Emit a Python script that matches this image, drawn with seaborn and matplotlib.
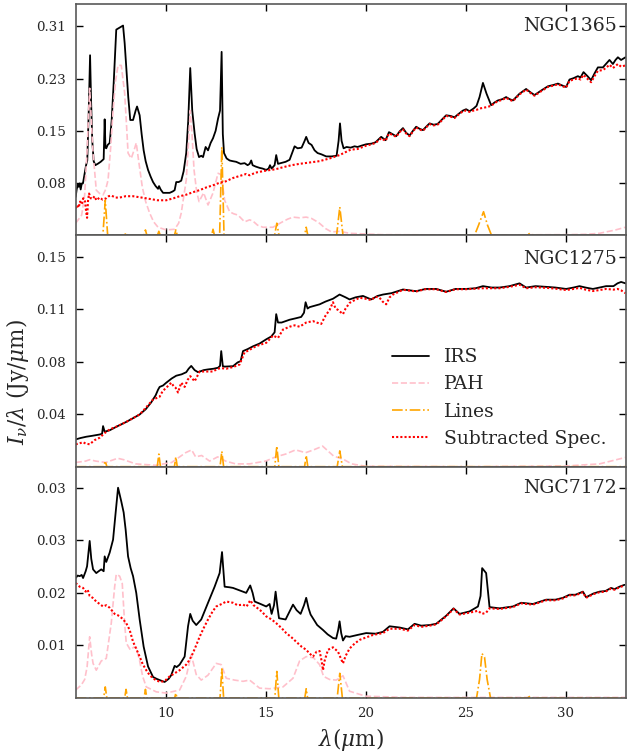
import matplotlib
matplotlib.use("Agg")
import matplotlib.pyplot as plt
import pandas as pd
import seaborn as sns

# ---------------- data (wavelength [um], I_nu/lambda [Jy/um]) ----------------
galaxies = ["NGC1365", "NGC1275", "NGC7172"]
series_labels = ["IRS", "PAH", "Lines", "Subtracted Spec."]

ngc1365_irs = [(5.5,0.057),(5.55,0.068),(5.6,0.075),(5.65,0.072),(5.7,0.077),(5.75,0.068),(5.8,0.076),(5.87,0.078),(5.95,0.092),(6.02,0.104),(6.08,0.111),(6.15,0.18),(6.22,0.267),(6.27,0.20),(6.33,0.140),(6.4,0.110),(6.48,0.104),(6.6,0.106),(6.75,0.109),(6.9,0.113),(6.95,0.172),(6.99,0.130),(7.03,0.129),(7.1,0.134),(7.2,0.137),(7.3,0.170),(7.4,0.225),(7.53,0.305),(7.7,0.308),(7.87,0.311),(7.95,0.285),(8.03,0.249),(8.13,0.205),(8.23,0.171),(8.37,0.171),(8.5,0.185),(8.57,0.191),(8.7,0.178),(8.8,0.150),(8.9,0.126),(9.0,0.110),(9.12,0.097),(9.25,0.087),(9.37,0.079),(9.5,0.073),(9.62,0.069),(9.67,0.073),(9.75,0.068),(9.87,0.063),(10.05,0.063),(10.2,0.063),(10.35,0.065),(10.45,0.067),(10.53,0.079),(10.65,0.079),(10.78,0.081),(10.9,0.095),(11.03,0.122),(11.13,0.170),(11.23,0.248),(11.33,0.185),(11.45,0.151),(11.55,0.128),(11.67,0.116),(11.78,0.118),(11.87,0.116),(12.0,0.131),(12.12,0.126),(12.25,0.137),(12.37,0.144),(12.5,0.155),(12.62,0.173),(12.72,0.185),(12.8,0.272),(12.86,0.150),(12.92,0.122),(13.05,0.114),(13.2,0.111),(13.35,0.110),(13.53,0.109),(13.75,0.106),(13.95,0.107),(14.1,0.104),(14.2,0.106),(14.28,0.111),(14.35,0.104),(14.5,0.102),(14.7,0.100),(14.85,0.099),(15.03,0.097),(15.15,0.099),(15.22,0.104),(15.3,0.099),(15.45,0.104),(15.53,0.119),(15.62,0.106),(15.75,0.107),(16.0,0.109),(16.2,0.112),(16.35,0.124),(16.45,0.132),(16.6,0.129),(16.8,0.130),(16.95,0.140),(17.03,0.146),(17.15,0.137),(17.3,0.134),(17.45,0.126),(17.6,0.122),(17.8,0.120),(18.03,0.117),(18.3,0.117),(18.55,0.118),(18.65,0.140),(18.72,0.166),(18.8,0.140),(18.9,0.129),(19.05,0.131),(19.25,0.130),(19.45,0.132),(19.6,0.131),(19.8,0.133),(20.03,0.135),(20.3,0.136),(20.5,0.138),(20.78,0.146),(21.0,0.141),(21.17,0.153),(21.35,0.150),(21.53,0.147),(21.7,0.154),(21.87,0.159),(22.03,0.152),(22.2,0.148),(22.37,0.155),(22.53,0.161),(22.7,0.158),(22.87,0.156),(23.03,0.161),(23.2,0.166),(23.4,0.164),(23.6,0.165),(23.8,0.171),(24.03,0.178),(24.25,0.177),(24.45,0.175),(24.65,0.180),(24.87,0.185),(25.03,0.187),(25.2,0.184),(25.4,0.188),(25.55,0.192),(25.7,0.205),(25.87,0.226),(26.05,0.210),(26.28,0.193),(26.45,0.197),(26.62,0.200),(26.85,0.202),(27.03,0.205),(27.2,0.202),(27.37,0.200),(27.7,0.210),(28.03,0.217),(28.25,0.212),(28.45,0.208),(28.8,0.215),(29.12,0.221),(29.4,0.223),(29.62,0.225),(29.85,0.222),(30.03,0.220),(30.2,0.231),(30.4,0.233),(30.62,0.236),(30.75,0.234),(30.9,0.242),(31.1,0.236),(31.28,0.230),(31.45,0.240),(31.62,0.249),(31.87,0.249),(32.05,0.255),(32.2,0.260),(32.37,0.254),(32.5,0.260),(32.62,0.264),(32.78,0.260),(33.0,0.264)]
ngc1365_pah = [(5.5,0.018),(5.65,0.024),(5.8,0.030),(5.95,0.060),(6.07,0.126),(6.2,0.218),(6.3,0.160),(6.37,0.122),(6.53,0.067),(6.7,0.062),(6.87,0.060),(7.0,0.068),(7.12,0.082),(7.25,0.130),(7.37,0.185),(7.5,0.230),(7.62,0.252),(7.78,0.252),(7.95,0.211),(8.05,0.160),(8.12,0.122),(8.28,0.114),(8.45,0.129),(8.53,0.137),(8.62,0.117),(8.83,0.072),(9.0,0.050),(9.2,0.033),(9.4,0.020),(9.62,0.012),(10.03,0.008),(10.45,0.009),(10.65,0.018),(10.78,0.033),(11.03,0.082),(11.15,0.140),(11.23,0.185),(11.32,0.150),(11.42,0.097),(11.55,0.065),(11.67,0.050),(11.9,0.063),(12.12,0.045),(12.37,0.063),(12.62,0.092),(12.78,0.090),(12.95,0.052),(13.2,0.035),(13.4,0.032),(13.62,0.030),(13.95,0.020),(14.2,0.023),(14.37,0.021),(14.6,0.015),(14.87,0.012),(15.37,0.012),(15.78,0.019),(16.1,0.024),(16.37,0.027),(16.7,0.026),(17.03,0.027),(17.3,0.025),(17.65,0.019),(18.0,0.010),(18.3,0.005),(18.7,0.006),(19.2,0.003),(20.8,0.001),(25.0,0.0005),(30.0,0.001),(31.0,0.0015),(31.7,0.003),(32.5,0.008),(33.0,0.012)]
ngc1365_lines = [(5.5,0.0),(6.86,0.0),(6.98,0.052),(7.1,0.0),(7.95,0.0),(8.02,0.004),(8.09,0.0),(8.92,0.0),(8.99,0.008),(9.06,0.0),(9.59,0.0),(9.66,0.006),(9.73,0.0),(10.44,0.0),(10.51,0.008),(10.58,0.0),(12.3,0.0),(12.37,0.009),(12.44,0.0),(12.7,0.0),(12.81,0.131),(12.92,0.0),(15.45,0.0),(15.56,0.018),(15.67,0.0),(16.95,0.0),(17.03,0.012),(17.11,0.0),(18.55,0.0),(18.71,0.042),(18.87,0.0),(25.45,0.0),(25.65,0.015),(25.9,0.035),(26.1,0.015),(26.3,0.0),(28.05,0.0),(28.22,0.003),(28.4,0.0),(33.0,0.0)]
ngc1365_sub = [(5.5,0.040),(5.58,0.045),(5.65,0.041),(5.72,0.050),(5.8,0.046),(5.88,0.055),(5.97,0.050),(6.02,0.036),(6.07,0.026),(6.12,0.052),(6.17,0.062),(6.25,0.055),(6.33,0.054),(6.45,0.058),(6.53,0.052),(6.7,0.056),(6.85,0.053),(7.03,0.055),(7.15,0.058),(7.28,0.059),(7.5,0.056),(7.7,0.056),(8.0,0.058),(8.37,0.058),(8.8,0.056),(9.2,0.054),(9.6,0.052),(10.03,0.052),(10.4,0.055),(10.7,0.058),(11.0,0.060),(11.37,0.064),(11.7,0.067),(12.03,0.071),(12.35,0.074),(12.7,0.078),(13.0,0.080),(13.37,0.085),(13.7,0.088),(14.03,0.091),(14.2,0.089),(14.5,0.093),(15.03,0.096),(15.5,0.098),(15.87,0.101),(16.3,0.104),(16.7,0.106),(17.2,0.108),(17.7,0.110),(18.2,0.114),(18.7,0.119),(19.25,0.127),(19.6,0.128),(20.03,0.133),(20.3,0.135),(20.5,0.137),(20.78,0.144),(21.0,0.140),(21.17,0.151),(21.35,0.149),(21.53,0.146),(21.7,0.153),(21.87,0.157),(22.03,0.151),(22.2,0.147),(22.37,0.154),(22.53,0.160),(22.7,0.157),(22.87,0.155),(23.03,0.160),(23.2,0.165),(23.4,0.163),(23.6,0.164),(23.8,0.170),(24.03,0.177),(24.25,0.176),(24.45,0.174),(24.65,0.179),(24.87,0.184),(25.03,0.185),(25.2,0.183),(25.4,0.185),(25.55,0.186),(25.7,0.188),(25.87,0.189),(26.05,0.190),(26.28,0.192),(26.45,0.196),(26.62,0.199),(26.85,0.201),(27.03,0.204),(27.2,0.201),(27.37,0.199),(27.7,0.209),(28.03,0.216),(28.25,0.211),(28.45,0.207),(28.8,0.214),(29.12,0.220),(29.4,0.222),(29.62,0.224),(29.85,0.221),(30.03,0.219),(30.2,0.229),(30.4,0.231),(30.62,0.233),(30.75,0.231),(30.9,0.238),(31.1,0.232),(31.28,0.227),(31.45,0.236),(31.62,0.244),(31.87,0.245),(32.05,0.249),(32.2,0.253),(32.37,0.248),(32.5,0.251),(32.62,0.254),(32.78,0.250),(33.0,0.252)]

ngc1275_irs = [(5.5,0.0195),(5.75,0.0205),(6.03,0.0214),(6.3,0.022),(6.7,0.023),(6.82,0.0235),(6.87,0.029),(6.95,0.025),(7.2,0.026),(7.6,0.029),(8.03,0.032),(8.35,0.0345),(8.7,0.0373),(9.0,0.041),(9.28,0.046),(9.5,0.051),(9.62,0.055),(9.7,0.057),(9.87,0.058),(10.03,0.060),(10.3,0.063),(10.53,0.065),(10.8,0.066),(11.03,0.0675),(11.15,0.070),(11.28,0.072),(11.45,0.069),(11.62,0.0675),(11.9,0.069),(12.12,0.0695),(12.4,0.070),(12.62,0.0707),(12.72,0.072),(12.78,0.0826),(12.86,0.0718),(12.95,0.0715),(13.37,0.0718),(13.6,0.0745),(13.75,0.0754),(13.87,0.0826),(14.1,0.084),(14.37,0.086),(14.7,0.088),(15.03,0.091),(15.28,0.093),(15.45,0.096),(15.53,0.109),(15.62,0.103),(15.8,0.103),(16.2,0.105),(16.5,0.106),(16.78,0.107),(16.92,0.110),(17.0,0.1175),(17.1,0.113),(17.2,0.114),(17.45,0.115),(17.7,0.116),(18.0,0.118),(18.37,0.120),(18.7,0.123),(19.0,0.121),(19.2,0.1195),(19.5,0.121),(19.87,0.122),(20.28,0.1195),(20.6,0.122),(20.87,0.123),(21.3,0.124),(21.87,0.1266),(22.2,0.126),(22.53,0.1254),(23.0,0.127),(23.53,0.127),(24.03,0.125),(24.5,0.127),(25.03,0.127),(25.5,0.1275),(25.87,0.129),(26.3,0.128),(26.7,0.128),(27.2,0.129),(27.7,0.131),(28.03,0.128),(28.5,0.129),(29.03,0.1285),(29.5,0.128),(30.03,0.127),(30.4,0.128),(30.7,0.129),(31.0,0.128),(31.37,0.127),(31.7,0.128),(32.03,0.129),(32.4,0.129),(32.6,0.131),(32.78,0.132),(33.0,0.131)]
ngc1275_pah = [(5.5,0.003),(6.0,0.004),(6.2,0.005),(6.5,0.004),(7.0,0.003),(7.6,0.006),(7.9,0.005),(8.5,0.002),(9.5,0.001),(10.3,0.003),(10.6,0.006),(11.0,0.010),(11.3,0.012),(11.5,0.007),(11.8,0.008),(12.2,0.004),(12.6,0.007),(13.0,0.004),(13.5,0.002),(14.2,0.002),(15.0,0.004),(15.5,0.007),(16.0,0.009),(16.5,0.012),(17.0,0.010),(17.4,0.012),(17.85,0.0147),(18.4,0.0076),(18.9,0.0052),(19.3,0.002),(20.0,0.0003),(25.0,0.0),(30.0,0.0005),(31.7,0.002),(33.0,0.0066)]
ngc1275_lines = [(5.5,0.0),(6.9,0.0),(6.98,0.004),(7.06,0.0),(9.58,0.0),(9.66,0.009),(9.74,0.0),(10.44,0.0),(10.51,0.007),(10.58,0.0),(12.72,0.0),(12.81,0.011),(12.9,0.0),(15.46,0.0),(15.56,0.0147),(15.66,0.0),(16.95,0.0),(17.03,0.008),(17.11,0.0),(18.58,0.0),(18.71,0.0113),(18.84,0.0),(33.0,0.0)]
ngc1275_sub = [(5.5,0.016),(5.65,0.0165),(5.87,0.0175),(6.0,0.0165),(6.2,0.016),(6.45,0.019),(6.7,0.0207),(6.95,0.024),(7.2,0.0266),(7.6,0.029),(8.03,0.032),(8.35,0.0345),(8.7,0.0373),(9.0,0.042),(9.37,0.048),(9.7,0.050),(9.85,0.054),(10.03,0.0564),(10.28,0.060),(10.4,0.0575),(10.5,0.0564),(10.62,0.053),(10.78,0.060),(10.95,0.057),(11.1,0.062),(11.23,0.0647),(11.45,0.061),(11.7,0.068),(12.0,0.068),(12.37,0.068),(12.6,0.070),(12.78,0.0704),(13.03,0.070),(13.37,0.0712),(13.7,0.073),(13.95,0.0818),(14.15,0.083),(14.37,0.085),(14.7,0.087),(15.03,0.0885),(15.2,0.091),(15.37,0.0937),(15.62,0.092),(15.87,0.098),(16.2,0.100),(16.45,0.101),(16.7,0.100),(17.03,0.103),(17.37,0.104),(17.55,0.103),(17.78,0.102),(18.0,0.108),(18.2,0.112),(18.37,0.1175),(18.5,0.113),(18.62,0.112),(18.87,0.109),(19.0,0.113),(19.2,0.117),(19.45,0.119),(19.7,0.1207),(20.0,0.120),(20.28,0.119),(20.5,0.1215),(20.7,0.1207),(20.85,0.118),(21.03,0.116),(21.2,0.121),(21.37,0.123),(21.87,0.1264),(22.2,0.1258),(22.53,0.1252),(23.0,0.1268),(23.53,0.1268),(24.03,0.1248),(24.5,0.1268),(25.03,0.1268),(25.5,0.1272),(25.87,0.1275),(26.3,0.1275),(26.7,0.1275),(27.2,0.1285),(27.7,0.130),(28.03,0.1275),(28.5,0.1282),(29.03,0.1278),(29.5,0.1272),(30.03,0.1262),(30.4,0.127),(30.7,0.1278),(31.0,0.1265),(31.37,0.1255),(31.7,0.1262),(32.03,0.127),(32.4,0.1265),(32.6,0.127),(32.78,0.126),(33.0,0.124)]

ngc7172_irs = [(5.5,0.0194),(5.6,0.0198),(5.7,0.0197),(5.8,0.0199),(5.87,0.0194),(6.0,0.0205),(6.07,0.0213),(6.2,0.0254),(6.28,0.0225),(6.37,0.0208),(6.53,0.0202),(6.65,0.0205),(6.78,0.0208),(6.9,0.0205),(6.95,0.0229),(7.03,0.0220),(7.2,0.0235),(7.37,0.0256),(7.5,0.0300),(7.62,0.0340),(7.78,0.0318),(7.9,0.0300),(8.0,0.0272),(8.12,0.0229),(8.25,0.0210),(8.37,0.0197),(8.53,0.0170),(8.7,0.0127),(8.9,0.0083),(9.12,0.0051),(9.37,0.0034),(9.55,0.0031),(9.7,0.0029),(9.95,0.0026),(10.15,0.0031),(10.28,0.0037),(10.45,0.0052),(10.55,0.0050),(10.7,0.0054),(10.95,0.0067),(11.12,0.0116),(11.23,0.0136),(11.35,0.0125),(11.53,0.0118),(11.78,0.0127),(12.12,0.0154),(12.45,0.0180),(12.7,0.0202),(12.82,0.0236),(12.95,0.0180),(13.2,0.0179),(13.37,0.0178),(13.7,0.0174),(14.03,0.0170),(14.23,0.0182),(14.35,0.0170),(14.45,0.0156),(14.75,0.0152),(15.03,0.0148),(15.2,0.0152),(15.3,0.0136),(15.42,0.0150),(15.5,0.0172),(15.6,0.0145),(15.67,0.0129),(16.0,0.0127),(16.2,0.0140),(16.37,0.0151),(16.55,0.0142),(16.75,0.0136),(16.92,0.0150),(17.03,0.0162),(17.15,0.0145),(17.25,0.0135),(17.58,0.0118),(17.87,0.0110),(18.1,0.0103),(18.37,0.0097),(18.53,0.0096),(18.63,0.0110),(18.7,0.0124),(18.78,0.0105),(18.87,0.0093),(19.0,0.0100),(19.2,0.0099),(19.6,0.0102),(20.03,0.0105),(20.5,0.0104),(20.87,0.0107),(21.2,0.0116),(21.7,0.0114),(22.12,0.0111),(22.45,0.0120),(22.78,0.0117),(23.2,0.0118),(23.53,0.0120),(24.03,0.0133),(24.4,0.0145),(24.7,0.0136),(25.2,0.0140),(25.62,0.0148),(25.75,0.0165),(25.83,0.0210),(26.03,0.0202),(26.2,0.0147),(26.7,0.0145),(27.37,0.0148),(27.78,0.0154),(28.37,0.0152),(29.03,0.0159),(29.5,0.0159),(29.87,0.0162),(30.2,0.0167),(30.5,0.0167),(30.87,0.0172),(31.03,0.0163),(31.4,0.0169),(31.7,0.0172),(32.0,0.0173),(32.28,0.0178),(32.45,0.0176),(32.7,0.0180),(32.95,0.0183)]
ngc7172_pah = [(5.5,0.0013),(5.78,0.0021),(5.95,0.0030),(6.07,0.0050),(6.2,0.0099),(6.3,0.0070),(6.37,0.0056),(6.53,0.0045),(6.78,0.0060),(7.03,0.0064),(7.28,0.0121),(7.45,0.0180),(7.53,0.0200),(7.7,0.0197),(7.83,0.0185),(7.95,0.0120),(8.03,0.0089),(8.23,0.0078),(8.4,0.0082),(8.53,0.0082),(8.7,0.0060),(8.85,0.0035),(9.03,0.0018),(9.53,0.0010),(10.03,0.0008),(10.7,0.0013),(11.03,0.0035),(11.28,0.0070),(11.53,0.0038),(11.78,0.0029),(12.12,0.0037),(12.53,0.0056),(12.78,0.0054),(13.03,0.0032),(13.45,0.0029),(13.87,0.0027),(14.2,0.0029),(14.7,0.0016),(15.2,0.0015),(15.87,0.0018),(16.37,0.0032),(16.7,0.0060),(17.03,0.0067),(17.4,0.0065),(17.7,0.0054),(17.9,0.0035),(18.2,0.0030),(18.53,0.0029),(18.87,0.0036),(19.2,0.0011),(20.0,0.0003),(22.0,0.0001),(33.0,0.0001)]
ngc7172_lines = [(5.5,0.0),(6.9,0.0),(6.98,0.0018),(7.06,0.0),(7.95,0.0),(8.02,0.0014),(8.09,0.0),(8.92,0.0),(8.99,0.0014),(9.06,0.0),(10.45,0.0),(10.51,0.0008),(10.57,0.0),(12.72,0.0),(12.81,0.0047),(12.9,0.0),(15.46,0.0),(15.56,0.0043),(15.66,0.0),(16.96,0.0),(17.03,0.0015),(17.1,0.0),(18.58,0.0),(18.71,0.0040),(18.84,0.0),(25.55,0.0),(25.7,0.003),(25.82,0.0072),(25.95,0.0066),(26.08,0.003),(26.25,0.0),(28.1,0.0),(28.22,0.0003),(28.35,0.0),(33.0,0.0)]
ngc7172_sub = [(5.5,0.0186),(5.6,0.0183),(5.7,0.0180),(5.87,0.0178),(6.0,0.0172),(6.1,0.0175),(6.2,0.0165),(6.35,0.0162),(6.53,0.0156),(6.7,0.0152),(6.87,0.0148),(7.03,0.0150),(7.2,0.0146),(7.35,0.0140),(7.45,0.0136),(7.6,0.0134),(7.7,0.0132),(7.85,0.0128),(8.03,0.0121),(8.2,0.0110),(8.37,0.0091),(8.55,0.0078),(8.7,0.0067),(8.85,0.0055),(9.03,0.0045),(9.2,0.0037),(9.37,0.0032),(9.55,0.0028),(9.78,0.0026),(10.0,0.0029),(10.2,0.0035),(10.45,0.0040),(10.7,0.0045),(11.03,0.0054),(11.2,0.0062),(11.37,0.0073),(11.55,0.0087),(11.7,0.0099),(11.9,0.0113),(12.12,0.0127),(12.35,0.0140),(12.53,0.0148),(12.8,0.0152),(13.03,0.0156),(13.2,0.0155),(13.37,0.0154),(13.6,0.0150),(13.87,0.0151),(14.05,0.0148),(14.23,0.0158),(14.4,0.0150),(14.53,0.0147),(14.8,0.0140),(15.03,0.0132),(15.3,0.0127),(15.53,0.0121),(15.8,0.0113),(16.03,0.0105),(16.3,0.0098),(16.53,0.0091),(16.8,0.0083),(17.03,0.0078),(17.2,0.0072),(17.37,0.0067),(17.55,0.0075),(17.7,0.0076),(17.8,0.0060),(17.87,0.0045),(17.95,0.0060),(18.12,0.0078),(18.37,0.0082),(18.62,0.0075),(18.75,0.0065),(18.87,0.0056),(19.0,0.0068),(19.2,0.0080),(19.45,0.0088),(19.7,0.0094),(20.03,0.0098),(20.37,0.0102),(20.87,0.0105),(21.2,0.0112),(21.7,0.0112),(22.12,0.0109),(22.45,0.0118),(22.78,0.0115),(23.2,0.0117),(23.53,0.0119),(24.03,0.0132),(24.4,0.0144),(24.7,0.0135),(25.2,0.0138),(25.62,0.0141),(25.83,0.0136),(26.03,0.0138),(26.2,0.0145),(26.7,0.0144),(27.37,0.0147),(27.78,0.0153),(28.37,0.0151),(29.03,0.0158),(29.5,0.0158),(29.87,0.0161),(30.2,0.0166),(30.5,0.0166),(30.87,0.0171),(31.03,0.0162),(31.4,0.0168),(31.7,0.0171),(32.0,0.0172),(32.28,0.0177),(32.45,0.0175),(32.7,0.0179),(32.95,0.0182)]

ytick_values = [[0.0775, 0.155, 0.2325, 0.31], [0.0375, 0.075, 0.1125, 0.15], [0.0085, 0.017, 0.0255, 0.034]]
ytick_labels = [["0.08", "0.15", "0.23", "0.31"], ["0.04", "0.08", "0.11", "0.15"], ["0.01", "0.02", "0.03", "0.03"]]
ylim_top = [0.343, 0.1653, 0.0374]
xtick_values = [10, 15, 20, 25, 30]

# ---------------- style ----------------
sns.set_theme(style="ticks")
plt.rcParams["font.family"] = ["DejaVu Serif"]
plt.rcParams["mathtext.fontset"] = "dejavuserif"

fig, axes = plt.subplots(3, 1, figsize=(6.28, 7.53), dpi=100, sharex=True)
fig.subplots_adjust(left=0.1205, right=0.9976, top=0.9947, bottom=0.073, hspace=0)

panel_data = [
    (ngc1365_irs, ngc1365_pah, ngc1365_lines, ngc1365_sub),
    (ngc1275_irs, ngc1275_pah, ngc1275_lines, ngc1275_sub),
    (ngc7172_irs, ngc7172_pah, ngc7172_lines, ngc7172_sub),
]
styles = [
    dict(color="black", linestyle="-", linewidth=1.3),
    dict(color="pink", linestyle="--", linewidth=1.2),
    dict(color="orange", linestyle="-.", linewidth=1.2),
    dict(color="red", linestyle=(0, (1, 1)), linewidth=1.5),
]
text_y = [0.904, 0.897, 0.909]

for i, ax in enumerate(axes):
    for pts, st, lab in zip(panel_data[i], styles, series_labels):
        df = pd.DataFrame(pts, columns=["wave", "flux"])
        kw = dict(st)
        if i == 1:
            kw["label"] = lab
        sns.lineplot(data=df, x="wave", y="flux", ax=ax, estimator=None,
                     sort=False, **kw)
    ax.set_xlim(5.5, 33.05)
    ax.set_ylim(0, ylim_top[i])
    ax.set_yticks(ytick_values[i])
    ax.set_yticklabels(ytick_labels[i])
    ax.set_xticks(xtick_values)
    ax.set_xlabel("")
    ax.set_ylabel("")
    ax.tick_params(direction="in", which="both", top=True, right=True,
                   length=5, width=1.0, color="black", labelsize=9.6, pad=6.8)
    for sp in ax.spines.values():
        sp.set_color("0.35")
        sp.set_linewidth(1.2)
    ax.text(0.983, text_y[i], galaxies[i], transform=ax.transAxes,
            ha="right", va="center", fontsize=13.6)
    if ax.get_legend() is not None:
        ax.get_legend().remove()

axes[1].legend(loc="center", bbox_to_anchor=(0.769, 0.297), frameon=False,
               fontsize=13.4, handlelength=2.0, handletextpad=0.8,
               labelspacing=0.5)

axes[2].set_xlabel(r"$\lambda (\mu$m$)$", fontsize=15.5)
fig.text(0.028, 0.493, r"$I_\nu/\lambda$ (Jy/$\mu$m)", rotation=90,
         ha="center", va="center", fontsize=15.5)

fig.savefig("out.png", dpi=100)
